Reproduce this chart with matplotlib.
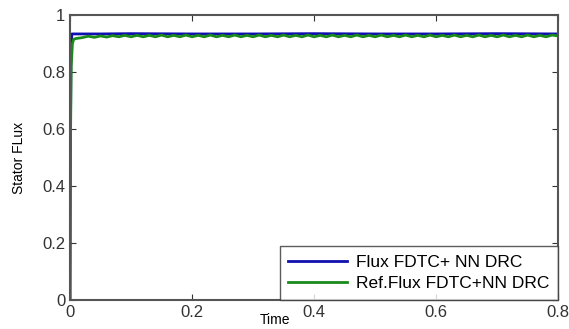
import matplotlib
matplotlib.use("Agg")
import matplotlib.pyplot as plt

plt.rcParams['font.family'] = ['Liberation Sans', 'DejaVu Sans']

# reference flux (blue)
t_flux = [0, 0.0005, 0.0015, 0.003, 0.01, 0.05, 0.1, 0.2, 0.3, 0.4, 0.5, 0.6, 0.7, 0.8]
flux = [0, 0.45, 0.85, 0.934, 0.934, 0.934, 0.935, 0.934, 0.934, 0.935, 0.934, 0.934, 0.935, 0.934]

# estimated flux (green), with ripple
t_ref = [0, 0.0005, 0.001, 0.002, 0.004, 0.006, 0.01, 0.02, 0.03, 0.04, 0.05, 0.06, 0.07,
         0.08, 0.09, 0.10, 0.11, 0.12, 0.13, 0.14, 0.15, 0.16, 0.17, 0.18, 0.19, 0.20,
         0.21, 0.22, 0.23, 0.24, 0.25, 0.26, 0.27, 0.28, 0.29, 0.30, 0.31, 0.32, 0.33,
         0.34, 0.35, 0.36, 0.37, 0.38, 0.39, 0.40, 0.41, 0.42, 0.43, 0.44, 0.45, 0.46,
         0.47, 0.48, 0.49, 0.50, 0.51, 0.52, 0.53, 0.54, 0.55, 0.56, 0.57, 0.58, 0.59,
         0.60, 0.61, 0.62, 0.63, 0.64, 0.65, 0.66, 0.67, 0.68, 0.69, 0.70, 0.71, 0.72,
         0.73, 0.74, 0.75, 0.76, 0.77, 0.78, 0.79, 0.80]
ref_flux = [0, 0.35, 0.6, 0.82, 0.9, 0.915, 0.918, 0.921, 0.926, 0.922, 0.927, 0.923, 0.928,
            0.924, 0.929, 0.924, 0.929, 0.924, 0.929, 0.924, 0.93, 0.924, 0.929, 0.924,
            0.93, 0.924, 0.929, 0.924, 0.93, 0.924, 0.929, 0.924, 0.93, 0.924, 0.929,
            0.924, 0.93, 0.924, 0.929, 0.924, 0.93, 0.924, 0.929, 0.924, 0.93, 0.924,
            0.929, 0.924, 0.93, 0.924, 0.929, 0.924, 0.93, 0.924, 0.929, 0.924, 0.93,
            0.924, 0.929, 0.924, 0.93, 0.924, 0.929, 0.924, 0.93, 0.924, 0.929, 0.924,
            0.93, 0.924, 0.929, 0.924, 0.93, 0.924, 0.929, 0.924, 0.93, 0.924, 0.929,
            0.924, 0.93, 0.924, 0.929, 0.924, 0.93, 0.927]

labels = ["Flux FDTC+ NN DRC", "Ref.Flux FDTC+NN DRC"]

fig = plt.figure(figsize=(5.69, 3.29), dpi=100)
ax = fig.add_axes([0.123, 0.088, 0.858, 0.866])

ax.plot(t_flux, flux, color="#1010b0", lw=2, label=labels[0])
ax.plot(t_ref, ref_flux, color="#1a8a1a", lw=2, label=labels[1])

ax.set_xlim(0, 0.8)
ax.set_ylim(0, 1)
ax.set_xticks([0, 0.2, 0.4, 0.6, 0.8])
ax.set_xticklabels(["0", "0.2", "0.4", "0.6", "0.8"])
ax.set_yticks([0, 0.2, 0.4, 0.6, 0.8, 1])
ax.set_yticklabels(["0", "0.2", "0.4", "0.6", "0.8", "1"])
ax.tick_params(direction="in", top=True, right=True, labelsize=12, colors="#333333",
               length=4, width=0.8)
for s in ax.spines.values():
    s.set_color("#555555")
    s.set_linewidth(1.5)

ax.set_xlabel("Time", fontsize=10)
ax.xaxis.set_label_coords(0.42, -0.045)
ax.set_ylabel("Stator FLux", fontsize=10)
ax.yaxis.set_label_coords(-0.09, 0.5)

leg = ax.legend(loc="lower right", fontsize=12.5, frameon=True, fancybox=False,
                borderaxespad=0, handlelength=3.4, handletextpad=0.5,
                borderpad=0.5, labelspacing=0.35)
leg.get_frame().set_edgecolor("#333333")
leg.get_frame().set_linewidth(1.0)

fig.savefig("out.png", dpi=100)
